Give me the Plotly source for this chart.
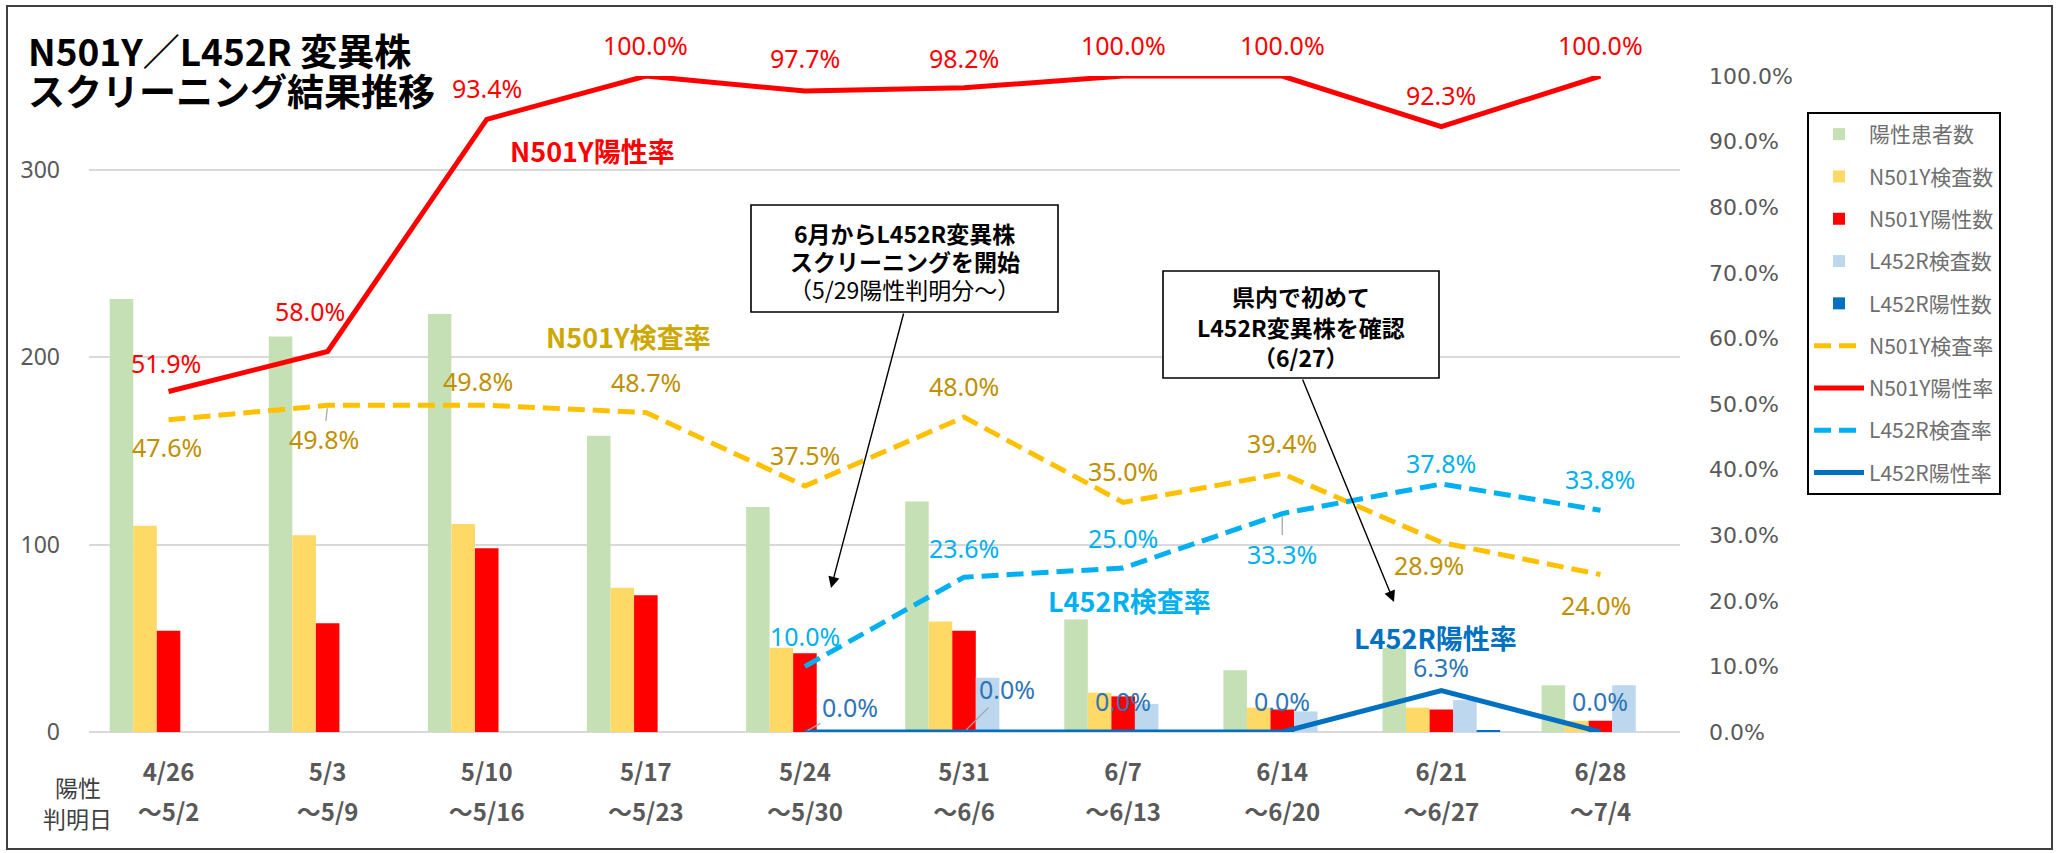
import plotly.graph_objects as go

# ---------------- data ----------------
categories = ["4/26", "5/3", "5/10", "5/17", "5/24", "5/31", "6/7", "6/14", "6/21", "6/28"]
period_end = ["～5/2", "～5/9", "～5/16", "～5/23", "～5/30", "～6/6", "～6/13", "～6/20", "～6/27", "～7/4"]

positives = [231, 211, 223, 158, 120, 123, 60, 33, 45, 25]          # 陽性患者数
n501y_tested = [110, 105, 111, 77, 45, 59, 21, 13, 13, 6]          # N501Y検査数
n501y_positive = [54, 58, 98, 73, 42, 54, 19, 12, 12, 6]           # N501Y陽性数
l452r_tested = [0, 0, 0, 0, 0, 29, 15, 11, 17, 25]                 # L452R検査数
l452r_positive = [0, 0, 0, 0, 0, 0, 0, 0, 1, 0]                    # L452R陽性数

n501y_test_rate = [47.6, 49.8, 49.8, 48.7, 37.5, 48.0, 35.0, 39.4, 28.9, 24.0]
n501y_pos_rate = [51.9, 58.0, 93.4, 100.0, 97.7, 98.2, 100.0, 100.0, 92.3, 100.0]
l452r_test_rate = [None, None, None, None, 10.0, 23.6, 25.0, 33.3, 37.8, 33.8]
l452r_pos_rate = [None, None, None, None, 0.0, 0.0, 0.0, 0.0, 6.3, 0.0]

left_ticks = [0, 100, 200, 300]
right_ticks = [0, 10, 20, 30, 40, 50, 60, 70, 80, 90, 100]
right_tick_text = ["0.0%", "10.0%", "20.0%", "30.0%", "40.0%", "50.0%",
                   "60.0%", "70.0%", "80.0%", "90.0%", "100.0%"]

# ---------------- style / layout helpers ----------------
W, H = 2058, 853
PL, PR, PT, PB = 89, 1680, 76, 732
FONT = "Noto Sans CJK JP"


def px(x):
    return (x - PL) / (PR - PL)


def py(y):
    return (PB - y) / (PB - PT)


# label offsets (dx, dy) in pixels, dy positive = up
pos_rate_off = [(-3, 29), (-18, 41), (0, 31), (0, 31), (0, 33), (0, 30), (0, 31), (0, 31), (0, 32), (0, 31)]
test_rate_off = [(-2, -27), (-4, -34), (-9, 24), (0, 31), (0, 31), (0, 31), (0, 31), (0, 31), (-12, -23), (-4, -30)]
l_test_off = [None, None, None, None, (0, 30), (0, 29), (0, 30), (0, -40), (0, 21), (0, 31)]
l_pos_off = [None, None, None, None, (45, 25), (43, 43), (0, 31), (0, 31), (0, 24), (0, 31)]
leader = {("test", 1), ("lpos", 4), ("lpos", 5), ("ltest", 7)}

fig = go.Figure()

bar_specs = [
    ("陽性患者数", positives, "#C5E0B4"),
    ("N501Y検査数", n501y_tested, "#FFD966"),
    ("N501Y陽性数", n501y_positive, "#FF0000"),
    ("L452R検査数", l452r_tested, "#BDD7EE"),
    ("L452R陽性数", l452r_positive, "#0070C0"),
]
for name, vals, col in bar_specs:
    fig.add_trace(go.Bar(x=categories, y=vals, name=name, marker=dict(color=col, line=dict(width=0)),
                         legendgroup=name, yaxis="y", xaxis="x"))

line_specs = [
    ("N501Y検査率", n501y_test_rate, "#FFC000", "17px,8px"),
    ("N501Y陽性率", n501y_pos_rate, "#FF0000", "solid"),
    ("L452R検査率", l452r_test_rate, "#00B0F0", "17px,8px"),
    ("L452R陽性率", l452r_pos_rate, "#0070C0", "solid"),
]
for name, vals, col, dash in line_specs:
    fig.add_trace(go.Scatter(x=categories, y=vals, name=name, mode="lines",
                             line=dict(color=col, width=5, dash=dash),
                             legendgroup=name, yaxis="y2", xaxis="x", cliponaxis=False,
                             connectgaps=False))

# invisible trace carrying the second line of the category labels
fig.add_trace(go.Scatter(x=period_end, y=[0] * len(period_end), xaxis="x2", yaxis="y",
                         mode="markers", marker=dict(opacity=0), showlegend=False,
                         hoverinfo="skip"))

annotations = []


def add_labels(vals, offs, color, key):
    for i, v in enumerate(vals):
        if v is None:
            continue
        dx, dy = offs[i]
        txt = f"{v:.1f}%"
        if (key, i) in leader:
            annotations.append(dict(x=categories[i], y=v, xref="x", yref="y2", text=txt,
                                    showarrow=True, ax=dx, ay=-dy, arrowhead=0, arrowwidth=1.3,
                                    arrowcolor="#A6A6A6", standoff=3,
                                    font=dict(family="Noto Sans", size=25, color=color)))
        else:
            annotations.append(dict(x=categories[i], y=v, xref="x", yref="y2", text=txt,
                                    showarrow=False, xshift=dx, yshift=dy,
                                    font=dict(family="Noto Sans", size=25, color=color)))


add_labels(n501y_pos_rate, pos_rate_off, "#FF0000", "pos")
add_labels(n501y_test_rate, test_rate_off, "#BF9000", "test")
add_labels(l452r_test_rate, l_test_off, "#00B0F0", "ltest")
add_labels(l452r_pos_rate, l_pos_off, "#2E75B6", "lpos")

# series name tags
for txt, col, x, y in [
    ("N501Y陽性率", "#FF0000", 592, 150),
    ("N501Y検査率", "#CCA800", 628, 336),
    ("L452R検査率", "#00B0F0", 1129, 600),
    ("L452R陽性率", "#0070C0", 1435, 637),
]:
    annotations.append(dict(x=px(x), y=py(y), xref="paper", yref="paper", text=f"<b>{txt}</b>",
                            showarrow=False, xanchor="center", yanchor="middle",
                            font=dict(family=FONT, size=27, color=col)))

# title
for txt, y in [("N501Y／L452R 変異株", 50), ("スクリーニング結果推移", 90)]:
    annotations.append(dict(x=px(26), y=py(y), xref="paper", yref="paper", text=f"<b>{txt}</b>",
                            showarrow=False, xanchor="left", yanchor="middle",
                            font=dict(family=FONT, size=37, color="#000000")))

# axis caption on the left of the category labels
for txt, x, y in [("陽性", 78, 787), ("判明日", 77, 818)]:
    annotations.append(dict(x=px(x), y=py(y), xref="paper", yref="paper", text=txt,
                            showarrow=False, xanchor="center", yanchor="middle",
                            font=dict(family=FONT, size=23, color="#404040")))

# callout boxes
shapes = []
boxes = [
    ((751, 205, 1058, 312), [("<b>6月からL452R変異株</b>", 233), ("<b>スクリーニングを開始</b>", 261),
                             ("（5/29陽性判明分～）", 289)], (904, 312), (831, 588)),
    ((1163, 271, 1439, 378), [("<b>県内で初めて</b>", 296), ("<b>L452R変異株を確認</b>", 327),
                              ("<b>（6/27）</b>", 357)], (1302, 378), (1394, 602)),
]
for (x0, y0, x1, y1), lines, tail, tip in boxes:
    shapes.append(dict(type="rect", xref="paper", yref="paper", x0=px(x0), x1=px(x1),
                       y0=py(y1), y1=py(y0), line=dict(color="#000000", width=1.6),
                       fillcolor="white", layer="above"))
    for txt, yy in lines:
        annotations.append(dict(x=px((x0 + x1) / 2), y=py(yy), xref="paper", yref="paper",
                                text=txt, showarrow=False, xanchor="center", yanchor="middle",
                                font=dict(family=FONT, size=23, color="#000000")))
    annotations.append(dict(x=px(tip[0]), y=py(tip[1]), xref="paper", yref="paper", text="",
                            showarrow=True, ax=tail[0] - tip[0], ay=tail[1] - tip[1],
                            arrowhead=2, arrowsize=1.6, arrowwidth=1.4, arrowcolor="#000000"))

# outer frame
shapes.append(dict(type="rect", xref="paper", yref="paper", x0=px(7), x1=px(2052),
                   y0=py(849), y1=py(6), line=dict(color="#404040", width=2),
                   fillcolor="rgba(0,0,0,0)", layer="below"))

fig.update_layout(
    width=W, height=H,
    margin=dict(l=PL, r=W - PR, t=PT, b=H - PB, pad=0),
    paper_bgcolor="white", plot_bgcolor="white",
    barmode="group", bargap=0.26, bargroupgap=0,
    font=dict(family=FONT, color="#595959"),
    xaxis=dict(type="category", range=[-0.5, 9.5], showgrid=False, zeroline=False, showline=False,
               ticks="", ticklabelstandoff=24,
               tickfont=dict(family=FONT, size=24, color="#595959", weight="bold")),
    xaxis2=dict(type="category", range=[-0.5, 9.5], overlaying="x", side="bottom", anchor="y",
                showgrid=False, zeroline=False, showline=False, ticks="", ticklabelstandoff=64,
                tickfont=dict(family=FONT, size=24, color="#595959", weight="bold")),
    yaxis=dict(range=[0, 350], tickvals=left_ticks, showgrid=True, gridcolor="#D9D9D9", gridwidth=2,
               zeroline=True, zerolinecolor="#D9D9D9", zerolinewidth=2, showline=False, ticks="",
               ticklabelstandoff=28, tickfont=dict(family="Noto Sans", size=23, color="#595959")),
    yaxis2=dict(range=[0, 100], tickvals=right_ticks, ticktext=right_tick_text,
                overlaying="y", side="right", showgrid=False, zeroline=False, showline=False,
                ticks="", ticklabelstandoff=28,
                tickfont=dict(family="DejaVu Sans", size=22, color="#595959")),
    legend=dict(x=px(1807), y=py(112), xanchor="left", yanchor="top", bgcolor="white",
                bordercolor="#000000", borderwidth=2, tracegroupgap=12, itemwidth=50,
                font=dict(family=FONT, size=21, color="#6E6E6E")),
    showlegend=True,
    annotations=annotations,
    shapes=shapes,
)

fig.write_html("out.html")
